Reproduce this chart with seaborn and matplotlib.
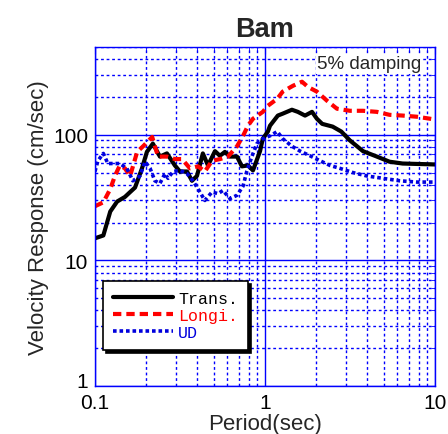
import numpy as np
import pandas as pd
import seaborn as sns
import matplotlib.pyplot as plt
from matplotlib.ticker import LogLocator, NullFormatter
from matplotlib.transforms import ScaledTranslation

# velocity response spectra (period in sec, velocity in cm/sec)
trans_T = [0.100, 0.112, 0.123, 0.135, 0.150, 0.161, 0.172, 0.189, 0.202, 0.219,
           0.241, 0.265, 0.295, 0.316, 0.348, 0.372, 0.398, 0.431, 0.462, 0.508,
           0.543, 0.581, 0.622, 0.685, 0.731, 0.794, 0.850, 0.935, 0.971, 1.04,
           1.07, 1.19, 1.27, 1.44, 1.56, 1.72, 1.89, 2.02, 2.17, 2.50,
           2.81, 3.16, 3.77, 4.55, 5.40, 6.45, 10.0]
trans_v = [15, 15.8, 24.5, 29.4, 32, 35, 38, 54, 73, 85,
           67, 71, 57, 51, 51, 43, 47, 71, 57, 74,
           68, 73, 67, 67, 56, 57, 52, 74, 93, 106,
           118, 142, 147, 158, 152, 142, 152, 134, 122, 116,
           106, 90, 74, 67, 61, 59, 58]

longi_T = [0.100, 0.112, 0.123, 0.131, 0.140, 0.150, 0.161, 0.177, 0.192, 0.217,
           0.235, 0.265, 0.295, 0.325, 0.362, 0.404, 0.443, 0.488, 0.543, 0.606,
           0.685, 0.743, 0.794, 0.850, 0.971, 1.04, 1.18, 1.27, 1.46, 1.65,
           1.79, 2.02, 2.32, 2.65, 3.16, 3.77, 4.55, 5.40, 6.45, 7.83,
           9.36, 10.0]
longi_v = [27, 29, 37, 47, 57, 54, 47, 73, 81, 96,
           67, 67, 64, 64, 54, 56, 51, 62, 64, 67,
           81, 98, 118, 134, 152, 170, 193, 220, 245, 264,
           240, 220, 186, 161, 155, 155, 152, 144, 142, 139,
           134, 132]

ud_T = [0.100, 0.104, 0.112, 0.119, 0.128, 0.140, 0.154, 0.167, 0.184, 0.197,
        0.211, 0.225, 0.241, 0.258, 0.269, 0.288, 0.316, 0.348, 0.377, 0.404,
        0.443, 0.488, 0.529, 0.566, 0.622, 0.685, 0.743, 0.781, 0.837, 0.896,
        0.971, 1.07, 1.18, 1.27, 1.44, 1.61, 1.84, 2.11, 2.41, 2.76,
        3.29, 3.97, 4.93, 6.21, 7.83, 9.60, 10.0]
ud_v = [51, 62, 71, 59, 59, 59, 54, 43, 47, 61,
        54, 43, 41, 49, 45, 51, 52, 49, 43, 37,
        30, 35, 34, 36, 31, 33, 39, 51, 67, 85,
        93, 98, 106, 93, 81, 74, 68, 62, 57, 54,
        50, 47, 45, 43, 42, 42, 42]

grid_blue = '#0000ff'
sns.set_style("white", {'grid.color': grid_blue, 'axes.edgecolor': grid_blue})
plt.rcParams['font.family'] = ['Liberation Sans', 'DejaVu Sans']
plt.rcParams['grid.color'] = grid_blue
plt.rcParams['grid.alpha'] = 1.0

fig = plt.figure(figsize=(4.48, 4.35), dpi=100)
ax = fig.add_axes([0.212, 0.110, 0.759, 0.780])

sns.lineplot(x=trans_T, y=trans_v, ax=ax, color='black', linewidth=3,
             label='Trans.', sort=False)
sns.lineplot(x=longi_T, y=longi_v, ax=ax, color='#ff0000', linewidth=3,
             label='Longi.', sort=False)
sns.lineplot(x=ud_T, y=ud_v, ax=ax, color='#0000dd', linewidth=2.6,
             label='UD', sort=False)
ax.lines[1].set_dashes((2.0, 1.2))
ax.lines[1].set_dash_capstyle('butt')
ax.lines[2].set_dashes((1.0, 0.8))
ax.lines[2].set_dash_capstyle('butt')

ax.set_xscale('log')
ax.set_yscale('log')
ax.set_xlim(0.1, 10)
ax.set_ylim(1, 500)

ax.set_xticks([0.1, 1, 10])
ax.set_xticklabels(['0.1', '1', '10'])
ax.set_yticks([1, 10, 100])
ax.set_yticklabels(['1', '10', '100'])
ax.xaxis.set_minor_locator(LogLocator(base=10, subs=np.arange(2, 10)))
ax.yaxis.set_minor_locator(LogLocator(base=10, subs=np.arange(2, 10)))
ax.xaxis.set_minor_formatter(NullFormatter())
ax.yaxis.set_minor_formatter(NullFormatter())

for s in ax.spines.values():
    s.set_color(grid_blue)
    s.set_linewidth(1.0)
ax.tick_params(which='both', direction='in', color=grid_blue, labelcolor='black',
               labelsize=15, top=True, right=True)
ax.tick_params(which='major', length=5, pad=5)
ax.tick_params(which='minor', length=3)

# the "1" on the y axis sits a little above its tick, clear of "0.1"
lab = ax.get_yticklabels()[0]
lab.set_transform(lab.get_transform() + ScaledTranslation(0, 5 / 72, fig.dpi_scale_trans))

for axis in (ax.xaxis, ax.yaxis):
    axis.grid(True, which='major', color=grid_blue, linestyle='-', linewidth=1.0)
    axis.grid(True, which='minor', color=grid_blue, linestyle=(0, (2, 2)), linewidth=1.0)
ax.set_axisbelow(True)

ax.set_title('Bam', fontsize=19.5, fontweight='bold', pad=8)
ax.set_xlabel('Period(sec)', fontsize=16, labelpad=1)
ax.set_ylabel('Velocity Response (cm/sec)', fontsize=16, labelpad=3)

ax.text(0.959, 0.95, '5% damping', transform=ax.transAxes, ha='right', va='center',
        fontsize=13.5, bbox=dict(facecolor='white', edgecolor='none', pad=1))

leg = ax.legend(loc='upper left', bbox_to_anchor=(0.024, 0.31), borderaxespad=0,
                fancybox=False, shadow={'color': 'black', 'alpha': 1.0},
                framealpha=1, edgecolor='black', handlelength=3.6,
                prop={'family': 'Liberation Mono', 'size': 12},
                borderpad=0.6, labelspacing=0.12, handletextpad=0.3)
leg.get_frame().set_linewidth(1.2)
for txt, c in zip(leg.get_texts(), ['black', '#ff0000', '#0000dd']):
    txt.set_color(c)

fig.savefig('out.png', dpi=100)
